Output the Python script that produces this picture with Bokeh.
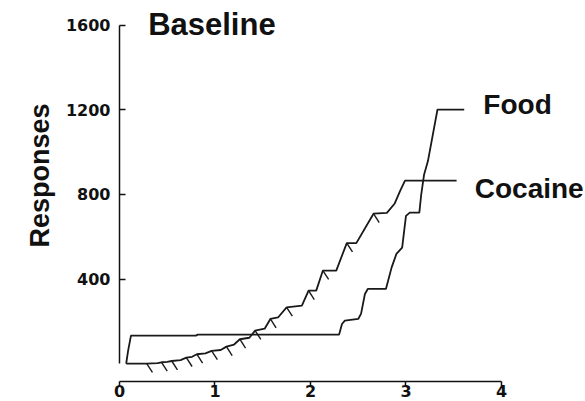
import numpy as np
from bokeh.plotting import figure
from bokeh.models import FixedTicker, Label, Range1d, Title
from bokeh.embed import file_html
from bokeh.resources import INLINE

# Session time (h) and cumulative responses
food_time = [0.07, 0.09, 0.12, 0.80, 0.82, 2.30, 2.33, 2.36, 2.50, 2.53, 2.57, 2.60,
             2.79, 2.85, 2.90, 2.96, 3.00, 3.04, 3.14, 3.16, 3.19, 3.23, 3.33, 3.61]
food_resp = [0, 60, 132, 132, 137, 137, 187, 203, 211, 236, 329, 353,
             353, 455, 519, 549, 699, 714, 714, 801, 895, 958, 1202, 1202]

cocaine_time = [0.07, 0.285, 0.40, 0.44, 0.50, 0.547, 0.64, 0.70, 0.76, 0.81,
                0.90, 0.965, 1.06, 1.12, 1.20, 1.26, 1.36, 1.42, 1.52, 1.58,
                1.66, 1.75, 1.91, 1.98, 2.06, 2.13, 2.27, 2.38, 2.48, 2.66,
                2.80, 2.88, 2.94, 2.99, 3.53]
cocaine_resp = [0, 0, 2, 6, 8, 12, 16, 28, 32, 44,
                48, 60, 64, 80, 90, 115, 122, 156, 165, 211,
                218, 266, 274, 345, 345, 440, 440, 570, 570, 709,
                713, 756, 818, 866, 866]

# times of cocaine infusions (hatch marks on the cocaine record)
infusion_time = [0.285, 0.44, 0.547, 0.70, 0.81, 0.965, 1.12, 1.26, 1.42, 1.58,
                 1.75, 1.98, 2.13, 2.38, 2.66]

x_ticks = [0, 1, 2, 3, 4]
y_ticks = [400, 800, 1200, 1600]

p = figure(width=585, height=401, output_backend="svg", toolbar_location=None,
           x_range=Range1d(0, 4.88), y_range=Range1d(-85, 1718),
           min_border_left=119, min_border_right=0, min_border_top=0,
           min_border_bottom=20)
p.outline_line_color = None
p.xgrid.visible = False
p.ygrid.visible = False
p.background_fill_color = "white"

FONT_TICK = "DejaVu Sans"
for ax in (p.xaxis, p.yaxis):
    ax.axis_line_color = "#111111"
    ax.axis_line_width = 1.5
    ax.major_tick_line_color = "#111111"
    ax.major_tick_line_width = 1.5
    ax.minor_tick_line_color = None
    ax.major_label_text_font = FONT_TICK
    ax.major_label_text_font_style = "bold"
    ax.major_label_text_font_size = "16px"
    ax.major_label_text_color = "#111111"

p.xaxis.bounds = (0, 4)
p.xaxis.ticker = FixedTicker(ticks=x_ticks)
p.xaxis.major_tick_in = 0
p.xaxis.major_tick_out = 5
p.xaxis.major_label_standoff = -2

p.yaxis.bounds = (0, 1600)
p.yaxis.ticker = FixedTicker(ticks=y_ticks)
p.yaxis.major_tick_in = 6
p.yaxis.major_tick_out = 0
p.yaxis.major_label_standoff = 9

LINE = "#1a1a1a"
p.line(food_time, food_resp, line_color=LINE, line_width=1.8)
p.line(cocaine_time, cocaine_resp, line_color=LINE, line_width=1.8)

hx = np.array(infusion_time)
hy = np.interp(hx, cocaine_time, cocaine_resp)
p.segment(x0=hx, y0=hy, x1=hx + 0.06, y1=hy - 42, line_color=LINE, line_width=1.4)

TXT = "Liberation Sans"
p.add_layout(Label(x=0.30, y=1606, text="Baseline", text_font=TXT, text_font_style="bold",
                   text_font_size="31px", text_baseline="middle", text_color="#111111"))
p.add_layout(Label(x=3.81, y=1225, text="Food", text_font=TXT, text_font_style="bold",
                   text_font_size="28px", text_baseline="middle", text_color="#111111"))
p.add_layout(Label(x=3.72, y=827, text="Cocaine", text_font=TXT, text_font_style="bold",
                   text_font_size="28px", text_baseline="middle", text_color="#111111"))
p.add_layout(Title(text="Responses", align="left", offset=134, text_font=TXT,
                   text_font_style="bold", text_font_size="27px", text_color="#111111",
                   standoff=16), "left")

open("out.html", "w").write(file_html(p, INLINE))
